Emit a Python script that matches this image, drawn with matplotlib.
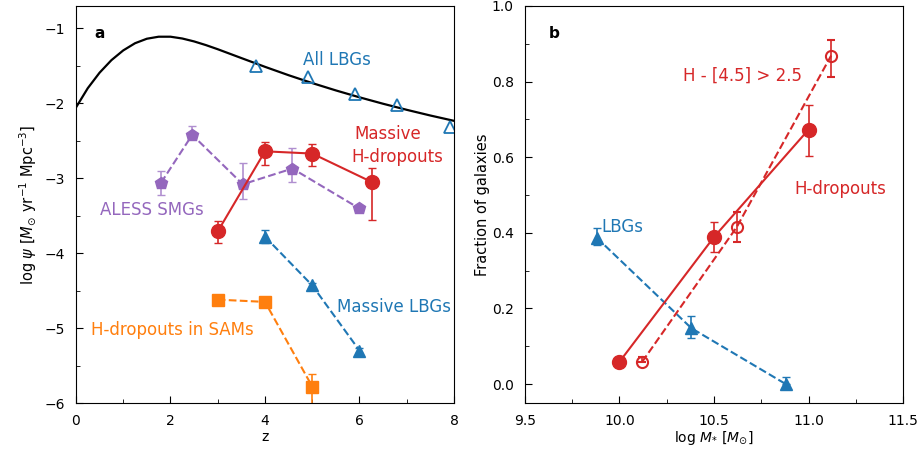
import numpy as np
import matplotlib
matplotlib.use("Agg")
import matplotlib.pyplot as plt
from matplotlib.ticker import MultipleLocator

# ---- panel a: cosmic SFR density ----
# smooth SFRD curve
z_curve = [0.0, 0.25, 0.5, 0.75, 1.0, 1.25, 1.5, 1.75, 2.0, 2.25, 2.5, 2.75,
           3.0, 3.5, 4.0, 4.5, 5.0, 5.5, 6.0, 6.5, 7.0, 7.5, 8.0]
sfrd_curve = [-2.055, -1.797, -1.590, -1.423, -1.293, -1.197, -1.137, -1.110,
              -1.110, -1.134, -1.173, -1.222, -1.277, -1.395, -1.512, -1.624,
              -1.729, -1.827, -1.919, -2.005, -2.086, -2.162, -2.233]

# all LBGs (open triangles)
z_all_lbg = [3.80, 4.90, 5.90, 6.79, 7.91]
sfrd_all_lbg = [-1.50, -1.65, -1.88, -2.02, -2.31]

# massive H-dropouts
z_hdrop = [3.0, 4.0, 5.0, 6.26]
sfrd_hdrop = [-3.71, -2.64, -2.67, -3.05]
hdrop_err_lo = [0.15, 0.18, 0.17, 0.51]
hdrop_err_hi = [0.14, 0.12, 0.13, 0.19]

# ALESS SMGs
z_smg = [1.80, 2.46, 3.53, 4.58, 5.99]
sfrd_smg = [-3.06, -2.42, -3.08, -2.87, -3.40]
smg_err_lo = [0.16, 0.06, 0.19, 0.18, 0.0]
smg_err_hi = [0.16, 0.12, 0.28, 0.27, 0.0]

# massive LBGs
z_mlbg = [4.0, 5.0, 6.0]
sfrd_mlbg = [-3.78, -4.43, -5.30]
mlbg_err = [0.09, 0.03, 0.03]

# H-dropouts in SAMs
z_sam = [3.0, 4.0, 5.0]
sfrd_sam = [-4.62, -4.65, -5.78]
sam_err_lo = [0.0, 0.0, 0.5]
sam_err_hi = [0.0, 0.0, 0.17]

# ---- panel b: fraction vs stellar mass ----
m_hdrop = [10.0, 10.5, 11.0]
f_hdrop = [0.059, 0.389, 0.673]
f_hdrop_lo = [0.0, 0.04, 0.071]
f_hdrop_hi = [0.0, 0.04, 0.066]

m_color = [10.12, 10.62, 11.12]
f_color = [0.059, 0.415, 0.869]
f_color_lo = [0.0, 0.039, 0.057]
f_color_hi = [0.012, 0.041, 0.042]

m_lbg = [9.88, 10.38, 10.88]
f_lbg = [0.387, 0.148, 0.0]
f_lbg_lo = [0.02, 0.026, 0.0]
f_lbg_hi = [0.026, 0.031, 0.02]

BLUE = "#1f77b4"
RED = "#d62728"
PURPLE = "#9467bd"
ORANGE = "#ff7f0e"

plt.rcParams["font.size"] = 10

fig = plt.figure(figsize=(9.22, 4.51), dpi=100)
ax1 = fig.add_axes([0.0824, 0.1064, 0.41, 0.8803])
ax2 = fig.add_axes([0.5694, 0.1064, 0.41, 0.8803])

for ax in (ax1, ax2):
    ax.tick_params(which="both", direction="in", top=False, right=False, pad=8)
    ax.tick_params(which="major", length=5)
    ax.tick_params(which="minor", length=3)

# panel a
ax1.plot(z_curve, sfrd_curve, color="k", lw=1.6)
ax1.plot(z_all_lbg, sfrd_all_lbg, "^", ms=8, mfc="none", mec=BLUE, mew=1.3, ls="none")
ax1.errorbar(z_smg, sfrd_smg, yerr=[smg_err_lo, smg_err_hi], fmt="p--", color=PURPLE,
             ms=9, lw=1.5, capsize=3, elinewidth=1.2, ecolor="#b08fd0")
ax1.errorbar(z_hdrop, sfrd_hdrop, yerr=[hdrop_err_lo, hdrop_err_hi], fmt="o-", color=RED,
             ms=10, lw=1.5, capsize=3, elinewidth=1.2)
ax1.errorbar(z_mlbg, sfrd_mlbg, yerr=mlbg_err, fmt="^--", color=BLUE,
             ms=9, lw=1.5, capsize=3, elinewidth=1.2)
ax1.errorbar(z_sam, sfrd_sam, yerr=[sam_err_lo, sam_err_hi], fmt="s--", color=ORANGE,
             ms=9, lw=1.5, capsize=3, elinewidth=1.2)

ax1.set_xlim(0, 8)
ax1.set_ylim(-6, -0.7)
ax1.xaxis.set_major_locator(MultipleLocator(2))
ax1.xaxis.set_minor_locator(MultipleLocator(1))
ax1.yaxis.set_major_locator(MultipleLocator(1))
ax1.yaxis.set_minor_locator(MultipleLocator(0.5))
ax1.set_xlabel("z", labelpad=1)
ax1.set_ylabel(r"log $\psi$ [$M_{\odot}$ yr$^{-1}$ Mpc$^{-3}$]", fontsize=10.5, labelpad=4)

ax1.text(0.048, 0.93, "a", transform=ax1.transAxes, fontweight="bold", fontsize=11,
         ha="left", va="center")
ax1.text(5.52, -1.42, "All LBGs", color=BLUE, fontsize=12, ha="center", va="center")
ax1.text(6.60, -2.41, "Massive", color=RED, fontsize=12, ha="center", va="center")
ax1.text(6.79, -2.71, "H-dropouts", color=RED, fontsize=12, ha="center", va="center")
ax1.text(1.61, -3.42, "ALESS SMGs", color=PURPLE, fontsize=12, ha="center", va="center")
ax1.text(6.72, -4.72, "Massive LBGs", color=BLUE, fontsize=12, ha="center", va="center")
ax1.text(2.04, -5.02, "H-dropouts in SAMs", color=ORANGE, fontsize=12, ha="center",
         va="center")

# panel b
ax2.errorbar(m_lbg, f_lbg, yerr=[f_lbg_lo, f_lbg_hi], fmt="^--", color=BLUE,
             ms=9, lw=1.5, capsize=3, elinewidth=1.2)
ax2.errorbar(m_color, f_color, yerr=[f_color_lo, f_color_hi], fmt="o--", color=RED,
             mfc="none", mew=1.5, ms=8, lw=1.5, capsize=3, elinewidth=1.2)
ax2.errorbar(m_hdrop, f_hdrop, yerr=[f_hdrop_lo, f_hdrop_hi], fmt="o-", color=RED,
             ms=10, lw=1.5, capsize=3, elinewidth=1.2)

ax2.set_xlim(9.5, 11.5)
ax2.set_ylim(-0.05, 1.0)
ax2.xaxis.set_major_locator(MultipleLocator(0.5))
ax2.xaxis.set_minor_locator(MultipleLocator(0.25))
ax2.yaxis.set_major_locator(MultipleLocator(0.2))
ax2.yaxis.set_minor_locator(MultipleLocator(0.1))
ax2.set_xlabel(r"log $M_{*}$ [$M_{\odot}$]", labelpad=1)
ax2.set_ylabel("Fraction of galaxies", fontsize=10.5, labelpad=1)

ax2.text(0.062, 0.93, "b", transform=ax2.transAxes, fontweight="bold", fontsize=11,
         ha="left", va="center")
ax2.text(10.65, 0.815, "H - [4.5] > 2.5", color=RED, fontsize=12, ha="center", va="center")
ax2.text(11.17, 0.516, "H-dropouts", color=RED, fontsize=12, ha="center", va="center")
ax2.text(9.905, 0.416, "LBGs", color=BLUE, fontsize=12, ha="left", va="center")

fig.savefig("out.png", dpi=100)
